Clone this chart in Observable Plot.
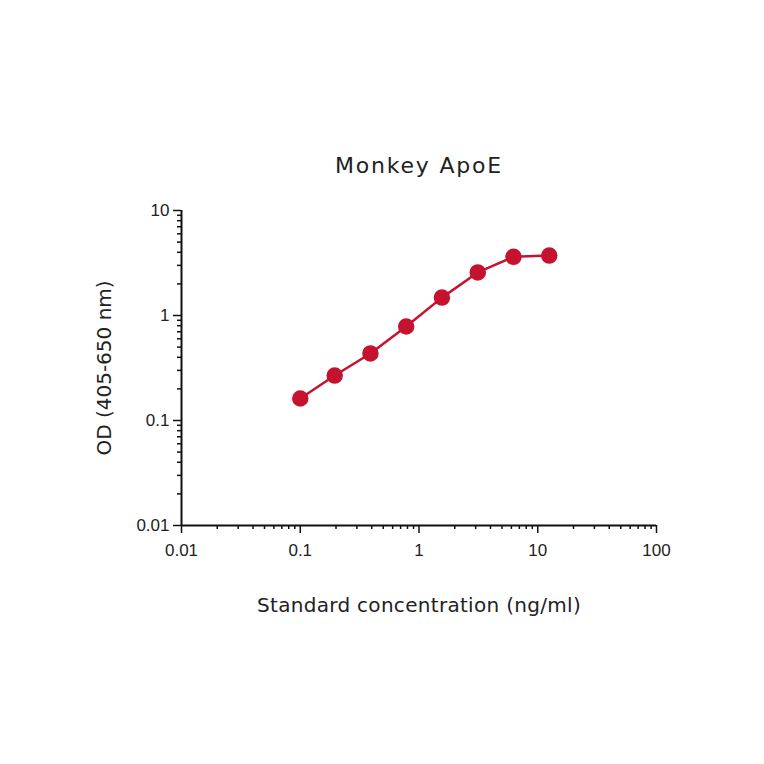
<!DOCTYPE html>
<html>
<head>
<meta charset="utf-8">
<script src="https://cdn.jsdelivr.net/npm/d3@7"></script>
<script src="https://cdn.jsdelivr.net/npm/@observablehq/plot@0.6"></script>
<style>
  html, body { margin: 0; padding: 0; background: #fff; }
  #chart svg { display: block; }
  .chart-title text { letter-spacing: 1.8px; }
  .chart-xlabel text { letter-spacing: 0.3px; }
</style>
</head>
<body>
<div id="chart"></div>
<script>
const concentration = [0.1, 0.195, 0.39, 0.78, 1.56, 3.125, 6.25, 12.5];
const od = [0.162, 0.268, 0.435, 0.785, 1.48, 2.57, 3.62, 3.72];
const xMajorTicks = [0.01, 0.1, 1, 10, 100];
const yMajorTicks = [0.01, 0.1, 1, 10];
const xMinorTicks = [0.02,0.03,0.04,0.05,0.06,0.07,0.08,0.09,0.2,0.3,0.4,0.5,0.6,0.7,0.8,0.9,2,3,4,5,6,7,8,9,20,30,40,50,60,70,80,90];
const yMinorTicks = [0.02,0.03,0.04,0.05,0.06,0.07,0.08,0.09,0.2,0.3,0.4,0.5,0.6,0.7,0.8,0.9,2,3,4,5,6,7,8,9];
const titleText = "Monkey ApoE";
const xLabel = "Standard concentration (ng/ml)";
const yLabel = "OD (405-650 nm)";

const data = concentration.map((c, i) => ({x: c, y: od[i]}));
const red = "#c5132f";
const labelFont = "'DejaVu Sans', Verdana, sans-serif";
const tickFont = "'Liberation Sans', Arial, sans-serif";

const chart = Plot.plot({
  width: 764,
  height: 764,
  marginLeft: 181,
  marginRight: 108,
  marginTop: 210,
  marginBottom: 239,
  style: {fontFamily: tickFont, fontSize: "17px", color: "#222", background: "#fff"},
  x: {type: "log", domain: [0.01, 100], axis: null},
  y: {type: "log", domain: [0.01, 10], axis: null},
  marks: [
    Plot.axisX({ticks: xMinorTicks, tickSize: 4, tickFormat: () => "", strokeWidth: 1.5, stroke: "#111", label: null}),
    Plot.axisX({ticks: xMajorTicks, tickSize: 8, tickPadding: 10, tickFormat: d => String(d), strokeWidth: 1.5, stroke: "#111", fill: "#222", fontSize: 17, fontFamily: tickFont, label: null}),
    Plot.axisY({ticks: yMinorTicks, tickSize: 4, tickFormat: () => "", strokeWidth: 1.5, stroke: "#111", label: null}),
    Plot.axisY({ticks: yMajorTicks, tickSize: 8, tickPadding: 4, tickFormat: d => String(d), strokeWidth: 1.5, stroke: "#111", fill: "#222", fontSize: 17, fontFamily: tickFont, label: null}),
    Plot.ruleY([0.01], {stroke: "#111", strokeWidth: 2}),
    Plot.ruleX([0.01], {stroke: "#111", strokeWidth: 2}),
    Plot.line(data, {x: "x", y: "y", stroke: red, strokeWidth: 2.5}),
    Plot.dot(data, {x: "x", y: "y", r: 7.5, fill: red, stroke: red}),
    Plot.text([titleText], {className: "chart-title", frameAnchor: "top", dy: -45, text: d => d, textAnchor: "middle", lineAnchor: "middle", fontSize: 22, fontFamily: labelFont, fill: "#222"}),
    Plot.text([xLabel], {className: "chart-xlabel", frameAnchor: "bottom", dy: 80, text: d => d, textAnchor: "middle", lineAnchor: "middle", fontSize: 20, fontFamily: labelFont, fill: "#222"}),
    Plot.text([yLabel], {frameAnchor: "left", dx: -77, text: d => d, rotate: -90, textAnchor: "middle", lineAnchor: "middle", fontSize: 20, fontFamily: labelFont, fill: "#222"})
  ]
});
document.getElementById("chart").appendChild(chart);
</script>
</body>
</html>
